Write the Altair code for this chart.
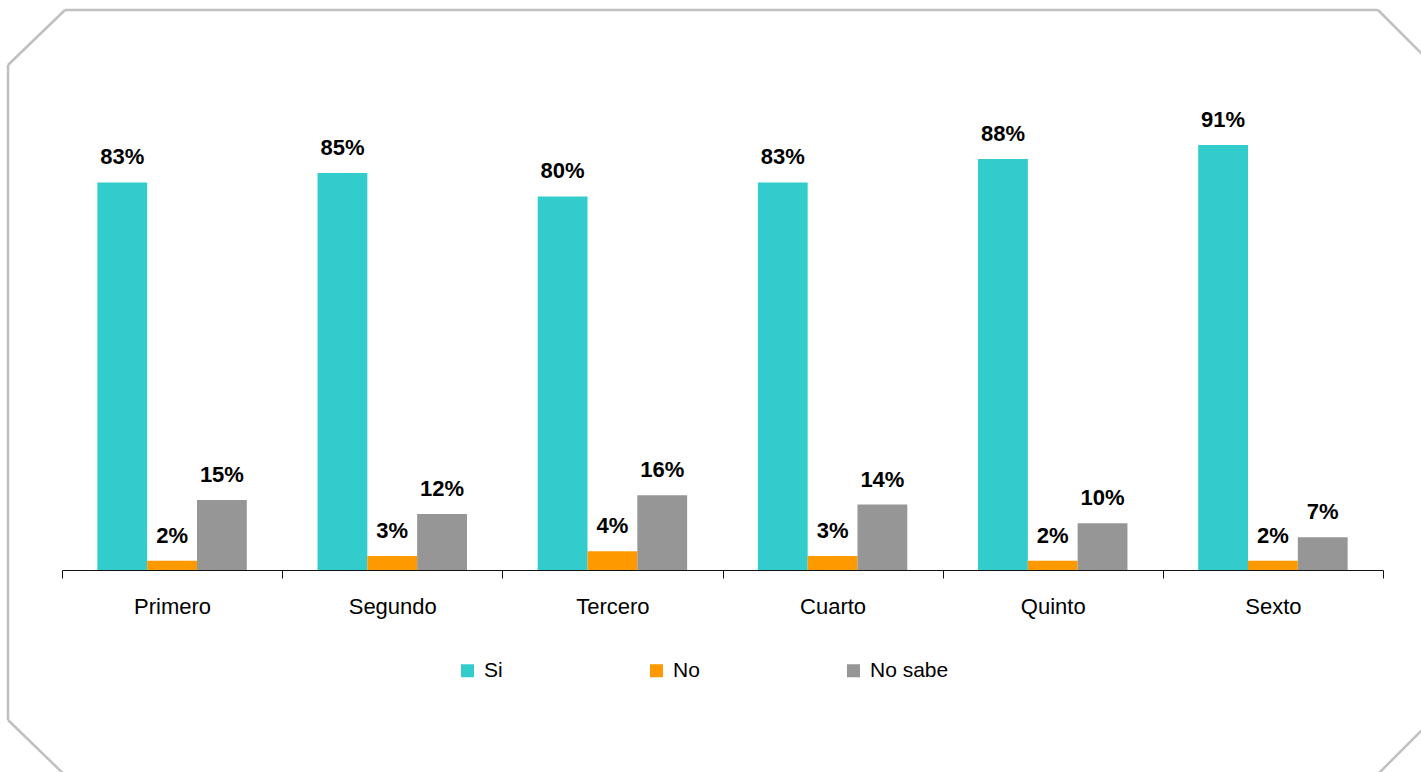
import altair as alt
import pandas as pd

grades = ["Primero", "Segundo", "Tercero", "Cuarto", "Quinto", "Sexto"]
answers = ["Si", "No", "No sabe"]
si = [0.83, 0.85, 0.80, 0.83, 0.88, 0.91]
no = [0.02, 0.03, 0.04, 0.03, 0.02, 0.02]
no_sabe = [0.15, 0.12, 0.16, 0.14, 0.10, 0.07]
colors = ["#33CCCC", "#FF9900", "#969696"]

rows = []
for i, g in enumerate(grades):
    for a, series in zip(answers, [si, no, no_sabe]):
        rows.append({"grado": g, "respuesta": a, "valor": series[i]})
df = pd.DataFrame(rows)

W, H = 1321, 467
FONT = "Liberation Sans"

x_enc = alt.X(
    "grado:N",
    sort=grades,
    scale=alt.Scale(paddingInner=0, paddingOuter=0),
    axis=alt.Axis(
        title=None,
        labelAngle=0,
        tickBand="extent",
        tickSize=8,
        tickColor="#111111",
        domainColor="#111111",
        labelFont=FONT,
        labelFontSize=22,
        labelColor="#000000",
        labelPadding=18,
    ),
)
xoff = alt.XOffset(
    "respuesta:N",
    sort=answers,
    scale=alt.Scale(paddingInner=0, paddingOuter=0.71),
)
y_enc = alt.Y("valor:Q", scale=alt.Scale(domain=[0, 1]), axis=None)

base = alt.Chart(df)

bars = base.mark_bar().encode(
    x=x_enc,
    xOffset=xoff,
    y=y_enc,
    color=alt.Color(
        "respuesta:N",
        sort=answers,
        scale=alt.Scale(domain=answers, range=colors),
        legend=alt.Legend(
            title=None,
            orient="none",
            direction="horizontal",
            legendX=395,
            legendY=557,
            symbolType="square",
            symbolSize=169,
            symbolStrokeWidth=0,
            symbolOpacity=1,
            labelFont=FONT,
            labelFontSize=21,
            labelColor="#000000",
            labelOffset=6,
            columnPadding=143,
        ),
    ),
)

labels = base.mark_text(
    font=FONT, fontSize=22, fontWeight="bold", color="#000000",
    baseline="middle", dy=-25,
).encode(
    x=x_enc,
    xOffset=xoff,
    y=y_enc,
    text=alt.Text("valor:Q", format=".0%"),
)

# Outer frame with cut corners (pixel offsets from the plot origin)
frame_segments = [
    (-54, -38, 3, -93),
    (3, -93, 1316, -93),
    (1316, -93, 1368, -41),
    (1368, 619, 1308, 679),
    (10, 679, -54, 617),
    (-54, 617, -54, -38),
]
frame_layers = [
    alt.Chart(alt.Data(values=[{}])).mark_rule(
        color="#C0C0C0", strokeWidth=2.5, clip=False
    ).encode(
        x=alt.value(x1), y=alt.value(y1), x2=alt.value(x2), y2=alt.value(y2)
    )
    for (x1, y1, x2, y2) in frame_segments
]

chart = alt.layer(bars, labels, *frame_layers).properties(
    width=W,
    height=H,
    padding={"left": 62, "top": 103, "right": 38, "bottom": 202},
    autosize=alt.AutoSizeParams(type="none"),
    background="#FFFFFF",
).configure_view(stroke=None)

chart.save("out.html", embed_options={"renderer": "svg", "actions": False})
